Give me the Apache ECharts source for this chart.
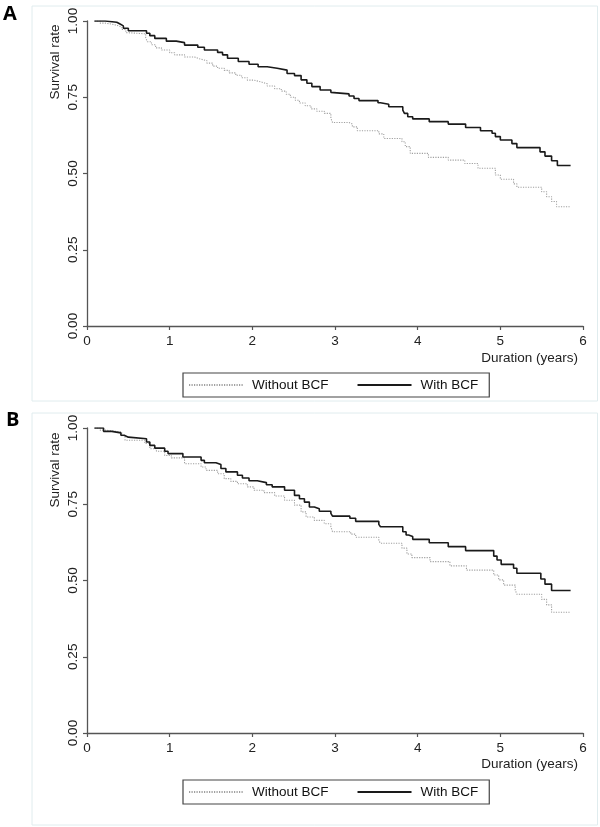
<!DOCTYPE html>
<html>
<head>
<meta charset="utf-8">
<script src="https://cdn.jsdelivr.net/npm/echarts@6/dist/echarts.min.js"></script>
<style>
html,body{margin:0;padding:0;background:#fff;}
#chart{width:600px;height:827px;}
</style>
</head>
<body>
<div id="chart"></div>
<script>
// ---- Data ----
const seriesNames = ['Without BCF', 'With BCF'];
const xTicks = [0, 1, 2, 3, 4, 5, 6];
const yTicks = [0, 0.25, 0.5, 0.75, 1];

// Panel A
const A_with_x = [0.09,0.22,0.36,0.40,0.44,0.50,0.72,0.76,0.82,0.96,1.08,1.18,1.34,1.42,1.58,1.64,1.70,1.83,1.96,2.07,2.18,2.30,2.42,2.51,2.59,2.66,2.72,2.82,2.95,2.97,3.17,3.23,3.29,3.52,3.55,3.65,3.82,3.84,3.88,3.94,4.14,4.37,4.58,4.76,4.90,4.94,5.00,5.14,5.20,5.48,5.54,5.62,5.69,5.85];
const A_with_y = [1.000,0.996,0.990,0.984,0.976,0.968,0.960,0.952,0.943,0.934,0.929,0.921,0.914,0.905,0.897,0.889,0.878,0.867,0.858,0.850,0.845,0.839,0.828,0.821,0.807,0.796,0.785,0.774,0.766,0.761,0.754,0.746,0.739,0.732,0.727,0.719,0.708,0.697,0.686,0.679,0.670,0.662,0.651,0.640,0.632,0.621,0.610,0.598,0.585,0.571,0.557,0.542,0.526,0.526];
const A_without_x = [0.09,0.16,0.22,0.30,0.37,0.42,0.47,0.49,0.71,0.73,0.78,0.83,0.90,1.00,1.06,1.18,1.30,1.36,1.45,1.52,1.58,1.66,1.72,1.80,1.87,1.94,2.02,2.11,2.18,2.27,2.35,2.41,2.46,2.52,2.57,2.64,2.71,2.78,2.87,2.95,2.97,3.17,3.21,3.27,3.53,3.59,3.81,3.85,3.91,4.13,4.37,4.57,4.73,4.94,5.00,5.16,5.20,5.50,5.56,5.62,5.68,5.84];
const A_without_y = [1.000,0.993,0.990,0.985,0.980,0.972,0.962,0.958,0.945,0.932,0.922,0.912,0.905,0.896,0.889,0.882,0.876,0.870,0.862,0.852,0.845,0.838,0.830,0.822,0.814,0.806,0.800,0.794,0.787,0.778,0.770,0.760,0.750,0.740,0.731,0.722,0.712,0.704,0.697,0.681,0.667,0.662,0.653,0.640,0.630,0.615,0.604,0.588,0.566,0.553,0.544,0.533,0.517,0.495,0.481,0.466,0.455,0.440,0.424,0.408,0.391,0.391];

// Panel B
const B_with_x = [0.09,0.20,0.30,0.41,0.45,0.50,0.72,0.76,0.82,0.94,0.98,1.16,1.38,1.42,1.56,1.62,1.68,1.82,1.88,1.96,2.06,2.17,2.24,2.39,2.51,2.57,2.63,2.69,2.75,2.81,2.95,2.97,3.18,3.25,3.53,3.55,3.82,3.86,3.89,3.94,4.14,4.37,4.58,4.92,4.96,5.01,5.16,5.20,5.49,5.54,5.62,5.85];
const B_with_y = [1.000,0.989,0.984,0.976,0.970,0.965,0.954,0.943,0.934,0.924,0.916,0.905,0.894,0.886,0.880,0.867,0.856,0.845,0.836,0.827,0.821,0.814,0.807,0.796,0.779,0.768,0.757,0.741,0.735,0.727,0.720,0.711,0.704,0.694,0.684,0.676,0.660,0.649,0.644,0.635,0.624,0.611,0.598,0.580,0.567,0.553,0.540,0.524,0.505,0.488,0.467,0.467];
const B_without_x = [0.09,0.16,0.22,0.42,0.46,0.70,0.76,0.84,0.94,1.02,1.18,1.38,1.44,1.58,1.66,1.74,1.82,1.94,2.02,2.14,2.27,2.39,2.51,2.59,2.65,2.75,2.87,2.95,2.97,3.19,3.25,3.53,3.55,3.81,3.87,3.93,4.15,4.39,4.59,4.92,4.98,5.04,5.18,5.20,5.50,5.56,5.62,5.84];
const B_without_y = [1.000,0.993,0.987,0.975,0.960,0.949,0.932,0.924,0.910,0.902,0.883,0.872,0.861,0.850,0.834,0.825,0.817,0.807,0.796,0.788,0.777,0.763,0.747,0.725,0.708,0.697,0.686,0.676,0.660,0.652,0.642,0.631,0.622,0.606,0.587,0.575,0.562,0.548,0.534,0.518,0.502,0.485,0.469,0.455,0.438,0.420,0.396,0.396];

// ---- Build chart ----
const zip = (xs, ys) => xs.map((x, i) => [x, ys[i]]);
const FONT = '"Liberation Sans", Arial, Helvetica, sans-serif';
const AXIS_COLOR = '#555';

function xAxisFor(gi) {
  return {
    type: 'value', gridIndex: gi, min: xTicks[0], max: xTicks[xTicks.length - 1], interval: 1,
    axisLine: { show: true, onZero: false, lineStyle: { color: AXIS_COLOR, width: 1.3 } },
    axisTick: { show: true, length: 4, lineStyle: { color: AXIS_COLOR, width: 1.2 } },
    axisLabel: { margin: 8, fontSize: 13.5, color: '#222', fontFamily: FONT },
    splitLine: { show: false }
  };
}
function yAxisFor(gi) {
  return {
    type: 'value', gridIndex: gi, min: yTicks[0], max: yTicks[yTicks.length - 1], interval: 0.25,
    axisLine: { show: true, lineStyle: { color: AXIS_COLOR, width: 1.3 } },
    axisTick: { show: true, length: 4, lineStyle: { color: AXIS_COLOR, width: 1.2 } },
    axisLabel: { rotate: 90, margin: 7, fontSize: 13.5, color: '#222', fontFamily: FONT,
      formatter: v => v.toFixed(2) },
    splitLine: { show: false }
  };
}
const dottedStyle = { color: '#a0a0a0', width: 1.1, type: [1.2, 1.3] };
const solidStyle = { color: '#1a1a1a', width: 1.6, type: 'solid' };

function seriesFor(gi, withoutData, withData) {
  return [
    { name: seriesNames[0], type: 'line', step: 'end', xAxisIndex: gi, yAxisIndex: gi,
      symbol: 'none', data: withoutData, lineStyle: dottedStyle, itemStyle: { color: '#a0a0a0' },
      animation: false, z: 2 },
    { name: seriesNames[1], type: 'line', step: 'end', xAxisIndex: gi, yAxisIndex: gi,
      symbol: 'none', data: withData, lineStyle: solidStyle, itemStyle: { color: '#1a1a1a' },
      animation: false, z: 3 }
  ];
}
function legendFor(top) {
  return {
    left: 183, top: top, orient: 'horizontal', data: seriesNames,
    borderColor: '#444', borderWidth: 1.2, borderRadius: 0, padding: [5, 11, 5, 5],
    itemWidth: 54, itemHeight: 12, itemGap: 28, selectedMode: false,
    itemStyle: { opacity: 0 },
    textStyle: { fontSize: 13.5, color: '#111', fontFamily: FONT, padding: [0, 0, 0, 4] }
  };
}
function textEl(x, y, text, opts) {
  return Object.assign({ type: 'text', x: x, y: y, silent: true,
    style: Object.assign({ text: text, fill: '#222', font: '13.5px ' + FONT,
      textAlign: 'left', textVerticalAlign: 'middle' }, opts.style || {}) }, opts.el || {});
}

const chart = echarts.init(document.getElementById('chart'), null, { renderer: 'canvas' });
chart.setOption({
  backgroundColor: '#fff',
  animation: false,
  grid: [
    { left: 87, top: 21, width: 496, height: 305, containLabel: false },
    { left: 87, top: 428, width: 496, height: 305, containLabel: false }
  ],
  xAxis: [xAxisFor(0), xAxisFor(1)],
  yAxis: [yAxisFor(0), yAxisFor(1)],
  legend: [legendFor(373), legendFor(780)],
  series: [].concat(
    seriesFor(0, zip(A_without_x, A_without_y), zip(A_with_x, A_with_y)),
    seriesFor(1, zip(B_without_x, B_without_y), zip(B_with_x, B_with_y))
  ),
  graphic: [
    { type: 'rect', silent: true, z: -1, shape: { x: 32, y: 6, width: 565.5, height: 395 },
      style: { fill: 'none', stroke: '#e0ecee', lineWidth: 1 } },
    { type: 'rect', silent: true, z: -1, shape: { x: 32, y: 413, width: 565.5, height: 412 },
      style: { fill: 'none', stroke: '#e0ecee', lineWidth: 1 } },
    textEl(3, 14, 'A', { style: { font: 'bold 20px "Open Sans", ' + FONT, fill: '#000' } }),
    textEl(6, 420, 'B', { style: { font: 'bold 20px "Open Sans", ' + FONT, fill: '#000' } }),
    textEl(55, 62, 'Survival rate', { style: { textAlign: 'center' }, el: { rotation: Math.PI / 2 } }),
    textEl(55, 470, 'Survival rate', { style: { textAlign: 'center' }, el: { rotation: Math.PI / 2 } }),
    textEl(578, 358, 'Duration (years)', { style: { textAlign: 'right' } }),
    textEl(578, 764, 'Duration (years)', { style: { textAlign: 'right' } })
  ]
});
</script>
</body>
</html>
